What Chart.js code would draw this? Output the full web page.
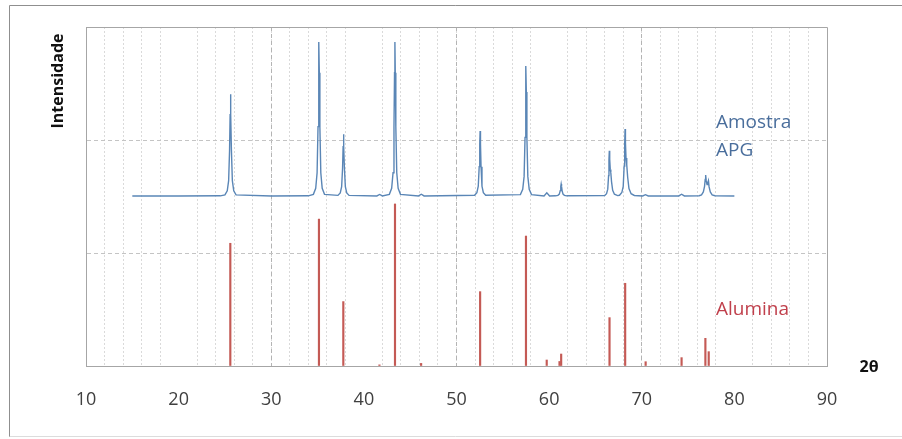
<!DOCTYPE html>
<html>
<head>
<meta charset="utf-8">
<script src="https://cdn.jsdelivr.net/npm/chart.js@4/dist/chart.umd.min.js"></script>
<style>
  html, body { margin: 0; padding: 0; background: #ffffff; }
  #wrap { position: relative; width: 902px; height: 439px; }
</style>
</head>
<body>
<div id="wrap"><canvas id="c" width="902" height="439"></canvas></div>
<script>
// ---- Data ----
// Amostra APG diffractogram (2θ, intensity, arbitrary units offset upward)
const apgX = [15, 20, 24.5,
  25.0, 25.25, 25.4, 25.5, 25.56, 25.6, 25.64, 25.7, 25.8, 25.95, 26.2,
  30, 34.0,
  34.55, 34.8, 34.95, 35.05, 35.11, 35.15, 35.19, 35.25, 35.35, 35.5, 35.75,
  37.2, 37.45, 37.6, 37.7, 37.76, 37.8, 37.84, 37.9, 38.0, 38.15, 38.4,
  41.4, 41.7, 42.0,
  42.75, 43.0, 43.15, 43.25, 43.31, 43.35, 43.39, 43.45, 43.55, 43.7, 43.95,
  45.9, 46.2, 46.5,
  51.95, 52.2, 52.35, 52.45, 52.51, 52.55, 52.59, 52.65, 52.75, 52.9, 53.15,
  56.9, 57.15, 57.3, 57.4, 57.46, 57.5, 57.54, 57.6, 57.7, 57.85, 58.1,
  59.45, 59.75, 60.05,
  60.7, 60.95, 61.1, 61.2, 61.26, 61.3, 61.34, 61.4, 61.5, 61.65, 61.9,
  66.0, 66.2, 66.33, 66.42, 66.46, 66.5, 66.54, 66.6, 66.66, 66.74, 66.86, 67.05, 67.4,
  67.6, 67.85, 68.0, 68.1, 68.16, 68.2, 68.24, 68.3, 68.38, 68.48, 68.62, 68.85, 69.2,
  70.1, 70.4, 70.7,
  74.0, 74.3, 74.6,
  76.2, 76.45, 76.65, 76.78, 76.85, 76.9, 76.96, 77.05, 77.14, 77.2, 77.27, 77.4, 77.6, 77.9,
  80];
const apgY = [150.5, 150.5, 150.6,
  151.4, 155, 164, 191, 222.5, 240.5, 222.5, 191, 164, 155, 151.4,
  150.5, 150.6,
  151.9, 157.3, 171, 211.8, 259.5, 286.7, 259.5, 211.8, 171, 157.3, 151.9,
  151, 153.2, 158.7, 175, 194.1, 205, 194.1, 175, 158.7, 153.2, 151,
  150.5, 151.8, 150.5,
  151.9, 157.3, 171, 211.8, 259.5, 286.7, 259.5, 211.8, 171, 157.3, 151.9,
  150.5, 152, 150.5,
  151.1, 153.4, 159.1, 176.4, 196.5, 208, 196.5, 176.4, 159.1, 153.4, 151.1,
  151.7, 156.3, 167.8, 202.3, 242.5, 265.5, 242.5, 202.3, 167.8, 156.3, 151.7,
  150.5, 153.2, 150.5,
  150.6, 151, 152.1, 155.2, 159, 161, 159, 155.2, 152.1, 151, 150.6,
  150.9, 152.5, 156.5, 168.5, 182.5, 190.5, 183, 174, 171, 163, 155.5, 152, 150.8,
  151.1, 153.5, 159, 177, 197, 209.7, 198, 184, 178, 167, 157, 152.5, 150.9,
  150.5, 151.6, 150.5,
  150.5, 152, 150.5,
  150.7, 151.5, 154, 159, 165, 169, 164, 160.5, 162.5, 164, 158.5, 154, 151.5, 150.7,
  150.5];

// Alumina reference pattern (stick lines)
const aluminaX = [25.58, 35.15, 37.78, 41.68, 43.36, 46.18, 52.55, 57.5, 59.74, 61.12, 61.3, 66.52, 68.21, 70.42, 74.3, 76.87, 77.23];
const aluminaY = [108.6, 130, 57, 1, 143.4, 2.3, 65.8, 115, 5.3, 4, 10.6, 42.8, 73.2, 3.8, 7.4, 24.5, 12.7];

// Axis ticks
const xTickLabels = [10, 20, 30, 40, 50, 60, 70, 80, 90];
const xMin = 10, xMax = 90, xMinorStep = 2, xMajorStep = 20;
const yMin = 0, yMax = 300, yStep = 100;

const apgData = apgX.map((x, i) => ({ x: x, y: apgY[i] }));
const aluminaData = aluminaX.map((x, i) => ({ x: x, y: aluminaY[i] }));

const FONT = "'Open Sans', 'Noto Sans', 'DejaVu Sans', sans-serif";

const decorPlugin = {
  id: 'decor',
  beforeDraw(chart) {
    const ctx = chart.ctx;
    ctx.save();
    // outer chart frame
    ctx.lineWidth = 1;
    ctx.strokeStyle = '#8f8f8f';
    ctx.beginPath();
    ctx.moveTo(9.5, 437);
    ctx.lineTo(9.5, 5.5);
    ctx.lineTo(902, 5.5);
    ctx.stroke();
    ctx.strokeStyle = '#dcdcdc';
    ctx.beginPath();
    ctx.moveTo(9.5, 436.5);
    ctx.lineTo(902, 436.5);
    ctx.stroke();
    ctx.restore();
  },
  afterDraw(chart) {
    const ctx = chart.ctx;
    const a = chart.chartArea;
    ctx.save();
    // plot area top/right frame
    ctx.strokeStyle = '#a6a6a6';
    ctx.lineWidth = 1;
    ctx.beginPath();
    ctx.moveTo(a.left, Math.round(a.top) + 0.5);
    ctx.lineTo(Math.round(a.right) + 0.5, Math.round(a.top) + 0.5);
    ctx.lineTo(Math.round(a.right) + 0.5, a.bottom);
    ctx.stroke();

    // y axis title
    ctx.fillStyle = '#111111';
    ctx.font = 'bold 16px ' + FONT;
    ctx.textAlign = 'center';
    ctx.textBaseline = 'middle';
    ctx.save();
    ctx.translate(58, 81);
    ctx.rotate(-Math.PI / 2);
    ctx.fillText('Intensidade', 0, 0);
    ctx.restore();

    // x axis title
    ctx.font = 'bold 16px ' + FONT;
    ctx.fillStyle = '#111111';
    ctx.textAlign = 'center';
    ctx.fillText('2θ', 869, 367);

    // series labels
    ctx.textAlign = 'left';
    ctx.font = '19px ' + FONT;
    ctx.fillStyle = '#4a6e9c';
    ctx.fillText('Amostra', 716, 123);
    ctx.fillText('APG', 716, 151);
    ctx.fillStyle = '#c0404c';
    ctx.fillText('Alumina', 716, 310);
    ctx.restore();
  }
};

new Chart(document.getElementById('c'), {
  type: 'line',
  data: {
    datasets: [
      {
        type: 'line',
        label: 'Amostra APG',
        data: apgData,
        borderColor: '#5a86b6',
        borderWidth: 1.4,
        pointRadius: 0,
        tension: 0,
        fill: false,
        xAxisID: 'x',
        yAxisID: 'y'
      },
      {
        type: 'bar',
        label: 'Alumina',
        data: aluminaData,
        backgroundColor: '#c45a55',
        borderWidth: 0,
        barThickness: 1.5,
        xAxisID: 'x',
        yAxisID: 'y'
      }
    ]
  },
  options: {
    responsive: false,
    animation: false,
    events: [],
    layout: { padding: { left: 86, right: 75, top: 27, bottom: 0 } },
    plugins: {
      legend: { display: false },
      title: { display: false },
      tooltip: { enabled: false }
    },
    scales: {
      x: {
        type: 'linear',
        position: 'bottom',
        min: xMin,
        max: xMax,
        offset: false,
        afterFit(scale) { scale.height = 73; },
        afterBuildTicks(scale) {
          const t = [];
          for (let v = xMin; v <= xMax; v += xMinorStep) t.push({ value: v });
          scale.ticks = t;
        },
        ticks: {
          autoSkip: false,
          maxRotation: 0,
          padding: 23,
          color: '#404040',
          font: { family: FONT, size: 18 },
          callback: (v) => (xTickLabels.includes(v) ? String(v) : '')
        },
        grid: {
          offset: false,
          drawTicks: false,
          lineWidth: 1,
          color: (ctx) => {
            const v = ctx.tick ? ctx.tick.value : 0;
            if (v === xMin || v === xMax || v % xMajorStep === 0) return 'rgba(0,0,0,0)';
            return '#dadada';
          }
        },
        border: { display: true, color: '#a6a6a6', width: 1, dash: [2, 2] }
      },
      x2: {
        type: 'linear',
        position: 'bottom',
        min: xMin,
        max: xMax,
        offset: false,
        afterFit(scale) { scale.height = 0; },
        afterBuildTicks(scale) {
          const t = [];
          for (let v = xMin; v <= xMax; v += xMajorStep) t.push({ value: v });
          scale.ticks = t;
        },
        ticks: { display: false },
        grid: {
          offset: false,
          drawTicks: false,
          lineWidth: 1,
          color: (ctx) => {
            const v = ctx.tick ? ctx.tick.value : 0;
            if (v === xMin || v === xMax) return 'rgba(0,0,0,0)';
            return '#b4b4b4';
          }
        },
        border: { display: false, dash: [4, 3] }
      },
      y: {
        type: 'linear',
        position: 'left',
        min: yMin,
        max: yMax,
        afterFit(scale) { scale.width = 0; },
        ticks: { display: false, stepSize: yStep },
        grid: {
          drawTicks: false,
          lineWidth: 1,
          color: (ctx) => {
            const v = ctx.tick ? ctx.tick.value : 0;
            if (v === yMin || v === yMax) return 'rgba(0,0,0,0)';
            return '#c4c4c4';
          }
        },
        border: { display: true, color: '#a6a6a6', width: 1, dash: [4, 3] }
      }
    }
  },
  plugins: [decorPlugin]
});
</script>
</body>
</html>
